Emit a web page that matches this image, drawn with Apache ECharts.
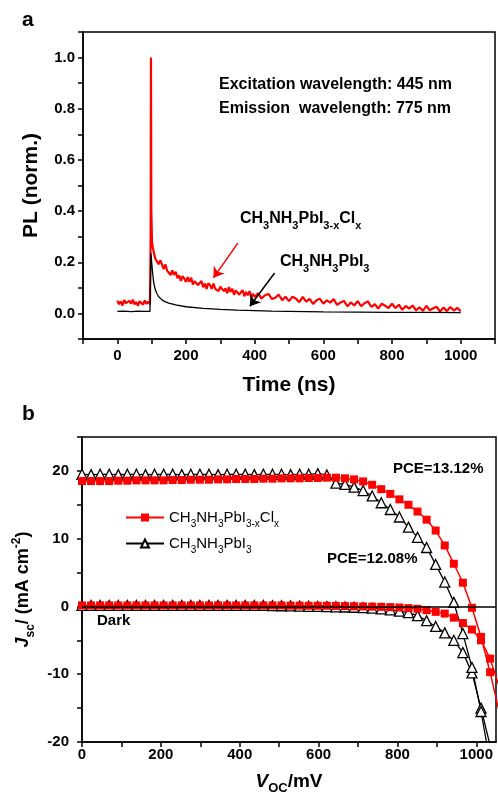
<!DOCTYPE html>
<html><head><meta charset="utf-8">
<script src="https://cdn.jsdelivr.net/npm/echarts@6/dist/echarts.min.js"></script>
<style>html,body{margin:0;padding:0;background:#fff}#c{width:498px;height:796px}</style>
</head><body><div id="c"></div>
<script>
// ---------- Panel a: PL decay ----------
const plTimeRed = [0,5,10,15,20,25,30,35,40,45,50,55,60,65,70,75,80,85,90,95,97,98,99,101,103,
  105,110,115,120,125,130,135,140,145,150,155,160,165,170,175,180,185,190,195,200,
  205,210,215,220,225,230,235,240,245,250,255,260,265,270,275,280,285,290,295,300,
  305,310,315,320,325,330,335,340,345,350,355,360,365,370,375,380,385,390,395,400,
  410,420,430,440,450,460,470,480,490,500,510,520,530,540,550,560,570,580,590,600,
  610,620,630,640,650,660,670,680,690,700,710,720,730,740,750,760,770,780,790,800,
  810,820,830,840,850,860,870,880,890,900,910,920,930,940,950,960,970,980,990,1000];
const plRed = [0.050,0.036,0.047,0.031,0.052,0.040,0.033,0.049,0.038,0.054,0.035,0.045,0.030,0.048,0.041,0.034,0.051,0.037,0.046,0.036,0.30,1.0,0.40,0.28,0.26,
  0.247,0.217,0.219,0.192,0.207,0.192,0.173,0.192,0.167,0.174,0.150,0.168,0.151,0.163,0.138,0.149,0.127,0.146,0.136,0.123,
  0.142,0.123,0.140,0.113,0.126,0.130,0.111,0.115,0.127,0.102,0.117,0.096,0.118,0.110,0.096,0.117,0.096,0.102,0.087,0.105,
  0.107,0.087,0.098,0.079,0.103,0.084,0.096,0.073,0.090,0.093,0.073,0.083,0.091,0.067,0.084,0.071,0.087,0.064,0.077,0.064,
  0.079,0.058,0.071,0.076,0.057,0.061,0.074,0.052,0.065,0.048,0.065,0.058,0.044,0.065,0.046,0.057,0.037,0.051,0.057,0.038,
  0.051,0.042,0.056,0.033,0.043,0.049,0.028,0.043,0.031,0.048,0.028,0.040,0.047,0.025,0.036,0.019,0.038,0.030,0.021,0.038,
  0.021,0.034,0.014,0.029,0.019,0.031,0.012,0.024,0.010,0.030,0.012,0.020,0.026,0.007,0.023,0.009,0.025,0.011,0.022,0.008];
const plTimeBlack = [0,20,40,60,80,95,97,98,100,103,106,110,115,120,130,140,150,170,200,250,300,350,400,450,500,600,700,800,900,1000];
const plBlack = [0.008,0.009,0.007,0.009,0.008,0.008,0.012,0.235,0.20,0.155,0.12,0.095,0.078,0.066,0.053,0.045,0.040,0.033,0.026,0.020,0.016,0.013,0.011,0.009,0.008,0.006,0.005,0.004,0.004,0.003];
const plXTicks = [0,200,400,600,800,1000];
const plYTicks = [0.0,0.2,0.4,0.6,0.8,1.0];

// ---------- Panel b: J-V ----------
const voltage = [0,23,46,69,92,115,138,161,184,207,230,253,276,299,322,345,368,391,414,437,460,483,506,529,552,575,598,621,644,667,690,713,736,759,782,805,828,851,874,897,920,943,966,989,1012,1035,1058];
const jLightMixed = [18.5,18.5,18.5,18.5,18.55,18.55,18.6,18.6,18.6,18.6,18.65,18.65,18.7,18.7,18.7,18.75,18.75,18.8,18.8,18.8,18.85,18.85,18.9,18.9,18.9,18.95,18.95,19.0,19.0,18.9,18.75,18.45,17.95,17.3,16.6,15.8,15.0,14.0,12.8,11.2,9.0,6.3,3.5,-0.2,-4.5,-9.7,-15.5];
const jDarkMixed = [0.15,0.15,0.15,0.15,0.15,0.15,0.15,0.15,0.15,0.15,0.15,0.15,0.15,0.15,0.15,0.15,0.15,0.15,0.15,0.15,0.15,0.15,0.15,0.12,0.12,0.1,0.1,0.1,0.08,0.05,0.03,0.0,-0.03,-0.06,-0.1,-0.15,-0.25,-0.35,-0.55,-0.8,-1.05,-1.65,-2.45,-3.4,-5.0,-7.7,-11.8];
const jLightPure = [19.5,19.45,19.5,19.5,19.45,19.5,19.5,19.45,19.5,19.5,19.5,19.45,19.5,19.5,19.5,19.45,19.5,19.5,19.5,19.45,19.5,19.5,19.5,19.45,19.5,19.5,19.6,19.4,18.2,18.0,17.6,17.1,16.3,15.3,14.3,13.2,11.7,10.2,8.7,6.2,3.6,0.6,-4.0,-9.0,-15.5,-23.0,null];
const jDarkPure = [0.15,0.15,0.15,0.15,0.15,0.15,0.15,0.15,0.15,0.15,0.15,0.15,0.15,0.15,0.15,0.15,0.15,0.15,0.15,0.15,0.15,0.12,0.1,0.08,0.05,0.02,0.0,-0.02,-0.05,-0.08,-0.12,-0.18,-0.25,-0.35,-0.5,-0.7,-0.9,-1.35,-2.1,-2.95,-3.9,-5.0,-6.8,-9.8,-15.0,-20.5,null];
const jvXTicks = [0,200,400,600,800,1000];
const jvYTicks = [-20,-10,0,10,20];

const FONT = "'Liberation Sans', Arial, sans-serif";
const zip = (a, b) => a.map((x, i) => [x, b[i]]);
const subRich = (size, weight) => ({
  n: {fontSize: size, fontWeight: weight, fontFamily: FONT, color: '#000', lineHeight: size + 8},
  s: {fontSize: Math.round(size * 0.68), fontWeight: weight, fontFamily: FONT, color: '#000', lineHeight: Math.round(size * 0.68), verticalAlign: 'bottom'},
  i: {fontSize: size, fontWeight: weight, fontStyle: 'italic', fontFamily: FONT, color: '#000', lineHeight: size + 8},
  p: {fontSize: Math.round(size * 0.68), fontWeight: weight, fontFamily: FONT, color: '#000', lineHeight: Math.round(size * 0.68), verticalAlign: 'top'}
});
const mixedLabel = '{n|CH}{s|3}{n|NH}{s|3}{n|PbI}{s|3-x}{n|Cl}{s|x}';
const pureLabel = '{n|CH}{s|3}{n|NH}{s|3}{n|PbI}{s|3}';

const tickLabel = {fontSize: 15, fontWeight: 'bold', color: '#000', fontFamily: FONT};
const axisLine = {show: true, onZero: false, lineStyle: {color: '#000', width: 1.5}};
const axisTick = {show: true, length: 5, lineStyle: {color: '#000', width: 1.5}};

const chart = echarts.init(document.getElementById('c'), null, {renderer: 'canvas'});
chart.setOption({
  animation: false,
  backgroundColor: '#fff',
  textStyle: {fontFamily: FONT},
  grid: [
    {left: 83, top: 32, right: 2, bottom: 457, show: true, borderColor: '#000', borderWidth: 1.5, containLabel: false},
    {left: 82, top: 437, right: 2, bottom: 54, show: true, borderColor: '#000', borderWidth: 1.5, containLabel: false}
  ],
  xAxis: [
    {gridIndex: 0, type: 'value', min: -100, max: 1100, interval: 100,
     axisLine, axisTick, splitLine: {show: false},
     axisLabel: Object.assign({margin: 9, formatter: v => plXTicks.includes(v) ? String(v) : ''}, tickLabel),
     name: 'Time (ns)', nameLocation: 'middle', nameGap: 36,
     nameTextStyle: {fontSize: 21, fontWeight: 'bold', color: '#000', fontFamily: FONT}},
    {gridIndex: 1, type: 'value', min: 0, max: 1050, interval: 100,
     axisLine, axisTick, splitLine: {show: false},
     axisLabel: Object.assign({margin: 5, showMaxLabel: false, formatter: v => jvXTicks.includes(v) ? String(v) : ''}, tickLabel),
     name: '{i|V}{s|OC}{n|/mV}', nameLocation: 'middle', nameGap: 26,
     nameTextStyle: {rich: subRich(19, 'bold')}}
  ],
  yAxis: [
    {gridIndex: 0, type: 'value', min: -0.1, max: 1.1, interval: 0.1,
     axisLine, axisTick, splitLine: {show: false},
     axisLabel: Object.assign({margin: 8, formatter: v => {
        const k = Math.round(v * 10);
        return plYTicks.some(t => Math.round(t * 10) === k) ? (k / 10).toFixed(1) : '';
     }}, tickLabel),
     name: 'PL (norm.)', nameLocation: 'middle', nameGap: 41,
     nameTextStyle: {fontSize: 21, fontWeight: 'bold', color: '#000', fontFamily: FONT}},
    {gridIndex: 1, type: 'value', min: -20, max: 25, interval: 5,
     axisLine, axisTick, splitLine: {show: false},
     axisLabel: Object.assign({margin: 13, formatter: v => jvYTicks.includes(v) ? String(v) : ''}, tickLabel),
     name: '{i|J}{s|sc}{n|/ (mA cm}{p|-2}{n|)}', nameLocation: 'middle', nameGap: 31,
     nameTextStyle: {rich: subRich(18, 'bold')}}
  ],
  legend: {
    left: 120, top: 505, orient: 'vertical', itemGap: 7, itemWidth: 38, itemHeight: 10,
    data: ['mixed', 'pure'],
    formatter: name => name === 'mixed' ? mixedLabel : pureLabel,
    textStyle: {rich: subRich(15, 'normal')}
  },
  series: [
    {type: 'line', xAxisIndex: 0, yAxisIndex: 0, data: zip(plTimeRed, plRed), showSymbol: false,
     lineStyle: {color: '#ff0000', width: 2.2}, itemStyle: {color: '#ff0000'}, z: 2,
     markLine: {silent: true, symbol: ['none', 'arrow'], symbolSize: 10, label: {show: false},
       lineStyle: {color: '#ff0000', width: 1.5, type: 'solid'},
       data: [[{coord: [351, 0.275]}, {coord: [280, 0.139]}]]}},
    {type: 'line', xAxisIndex: 0, yAxisIndex: 0, data: zip(plTimeBlack, plBlack), showSymbol: false,
     lineStyle: {color: '#000', width: 1.3}, itemStyle: {color: '#000'}, z: 3,
     markLine: {silent: true, symbol: ['none', 'arrow'], symbolSize: 10, label: {show: false},
       lineStyle: {color: '#000', width: 1.5, type: 'solid'},
       data: [[{coord: [458, 0.158]}, {coord: [386, 0.028]}]]}},
    // zero line of panel b
    {type: 'line', xAxisIndex: 1, yAxisIndex: 1, data: [], z: 1,
     markLine: {silent: true, symbol: ['none', 'none'], label: {show: false},
       lineStyle: {color: '#000', width: 1.5, type: 'solid'}, data: [{yAxis: 0}]}},
    {name: 'pure', type: 'line', xAxisIndex: 1, yAxisIndex: 1, data: zip(voltage, jDarkPure),
     symbol: 'triangle', symbolSize: 10, showAllSymbol: true, z: 3,
     lineStyle: {color: '#000', width: 1.3}, itemStyle: {color: '#fff', borderColor: '#000', borderWidth: 1.3}},
    {name: 'pure', type: 'line', xAxisIndex: 1, yAxisIndex: 1, data: zip(voltage, jLightPure),
     symbol: 'triangle', symbolSize: 10, showAllSymbol: true, z: 3,
     lineStyle: {color: '#000', width: 1.3}, itemStyle: {color: '#fff', borderColor: '#000', borderWidth: 1.3}},
    {name: 'mixed', type: 'line', xAxisIndex: 1, yAxisIndex: 1, data: zip(voltage, jDarkMixed),
     symbol: 'rect', symbolSize: 8, showAllSymbol: true, z: 4,
     lineStyle: {color: '#ff0000', width: 1.5}, itemStyle: {color: '#ff0000'}},
    {name: 'mixed', type: 'line', xAxisIndex: 1, yAxisIndex: 1, data: zip(voltage, jLightMixed),
     symbol: 'rect', symbolSize: 8, showAllSymbol: true, z: 4,
     lineStyle: {color: '#ff0000', width: 1.5}, itemStyle: {color: '#ff0000'}}
  ],
  graphic: [
    {type: 'text', left: 22, top: 10, style: {text: 'a', font: "bold 21px " + FONT, fill: '#000'}},
    {type: 'text', left: 22, top: 404, style: {text: 'b', font: "bold 21px " + FONT, fill: '#000'}},
    {type: 'text', left: 219, top: 77, style: {text: 'Excitation wavelength: 445 nm', font: "bold 16px " + FONT, fill: '#000'}},
    {type: 'text', left: 219, top: 101, style: {text: 'Emission  wavelength: 775 nm', font: "bold 16px " + FONT, fill: '#000'}},
    {type: 'text', left: 240, top: 211, style: {text: mixedLabel, rich: subRich(16, 'bold')}},
    {type: 'text', left: 280, top: 254, style: {text: pureLabel, rich: subRich(16, 'bold')}},
    {type: 'text', left: 393, top: 461, style: {text: 'PCE=13.12%', font: "bold 15px " + FONT, fill: '#000'}},
    {type: 'text', left: 327, top: 551, style: {text: 'PCE=12.08%', font: "bold 15px " + FONT, fill: '#000'}},
    {type: 'text', left: 97, top: 613, style: {text: 'Dark', font: "bold 15px " + FONT, fill: '#000'}}
  ]
});
</script></body></html>
